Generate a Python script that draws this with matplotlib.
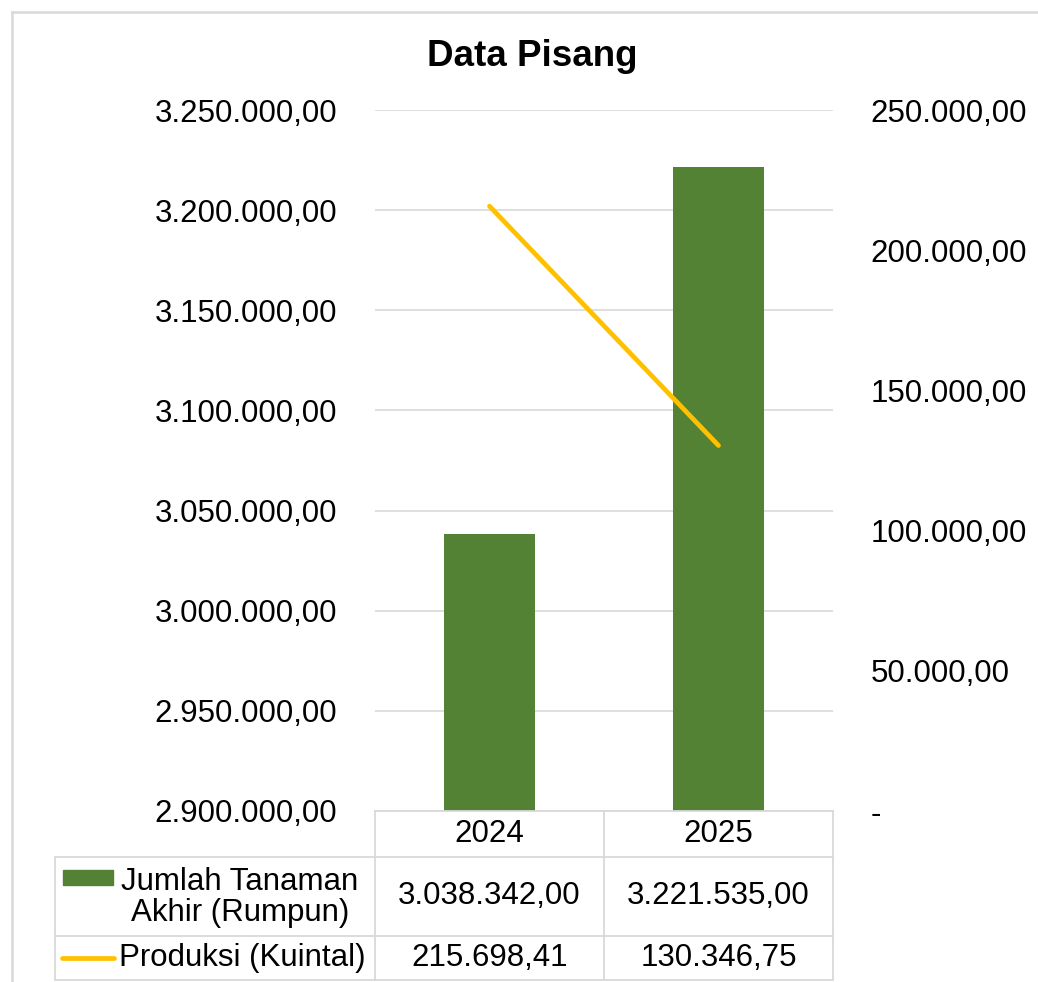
import matplotlib.pyplot as plt
import matplotlib.ticker as mticker
from matplotlib.patches import Rectangle
from matplotlib.lines import Line2D

plt.rcParams['font.family'] = ['Liberation Sans', 'DejaVu Sans']

years = ['2024', '2025']
jumlah_tanaman = [3038342.00, 3221535.00]
produksi = [215698.41, 130346.75]
series_labels = ['Jumlah Tanaman\nAkhir (Rumpun)', 'Produksi (Kuintal)']

GREEN = '#548235'
YELLOW = '#FFC000'
GRID = '#D9D9D9'

W, H = 1038, 982


def fmt_id(v):
    s = f"{v:,.2f}"
    return s.replace(',', 'X').replace('.', ',').replace('X', '.')


def fx(px):
    return px / W


def fy(py):
    return 1 - py / H


fig = plt.figure(figsize=(W / 100, H / 100), dpi=100)

# plot area in pixel coords
x0, x1, y0, y1 = 375, 833, 110, 811
ax = fig.add_axes([fx(x0), fy(y1), fx(x1 - x0), fy(y0) - fy(y1)])
ax2 = ax.twinx()

xs = list(range(len(years)))
ax.bar(xs, jumlah_tanaman, width=0.4, color=GREEN, zorder=3)
ax.set_ylim(2900000, 3250000)
ax.set_xlim(-0.5, len(years) - 0.5)
ax.yaxis.set_major_locator(mticker.MultipleLocator(50000))
ax.yaxis.set_major_formatter(mticker.FuncFormatter(lambda v, p: fmt_id(v)))
ax.grid(axis='y', color=GRID, lw=1.2, zorder=0)
ax.set_xticks([])
ax.tick_params(axis='y', length=0, pad=27, labelsize=22.5, colors='#000000')

ax2.plot(xs, produksi, color=YELLOW, lw=3.4, solid_capstyle='round', zorder=4)
ax2.set_ylim(0, 250000)
ax2.yaxis.set_major_locator(mticker.MultipleLocator(50000))
ax2.yaxis.set_major_formatter(
    mticker.FuncFormatter(lambda v, p: '-' if abs(v) < 1e-9 else fmt_id(v)))
ax2.tick_params(axis='y', length=0, pad=27, labelsize=22.5)
ax2.set_xlim(-0.5, len(years) - 0.5)

for a in (ax, ax2):
    for s in a.spines.values():
        s.set_visible(False)

fig.text(fx(532), fy(57), 'Data Pisang', ha='center', va='center',
         fontsize=26.5, fontweight='bold')

# overlay for chart border
ov = fig.add_axes([0, 0, 1, 1], zorder=-1)
ov.set_xlim(0, W)
ov.set_ylim(H, 0)
ov.axis('off')
ov.add_line(Line2D([12, 12], [12, H + 5], color=GRID, lw=1.8))
ov.add_line(Line2D([12, W + 5], [12, 12], color=GRID, lw=1.8))

# data table
ax_top = fig.add_axes([0, 0, 1, 1], zorder=5)
ax_top.set_xlim(0, W)
ax_top.set_ylim(H, 0)
ax_top.axis('off')
ax_top.patch.set_alpha(0)

row_y = [811, 857, 936, 980]
col_x = [55, 375, 604, 833]
lc = dict(color=GRID, lw=1.3)
ax_top.add_line(Line2D([col_x[1], col_x[3]], [row_y[0], row_y[0]], **lc))
for yy in row_y[1:]:
    ax_top.add_line(Line2D([col_x[0], col_x[3]], [yy, yy], **lc))
ax_top.add_line(Line2D([col_x[0], col_x[0]], [row_y[1], row_y[3]], **lc))
for xx in col_x[1:]:
    ax_top.add_line(Line2D([xx, xx], [row_y[0], row_y[3]], **lc))

fs = 22.5
for i, yr in enumerate(years):
    cx = (col_x[i + 1] + col_x[i + 2]) / 2
    ax_top.text(cx, (row_y[0] + row_y[1]) / 2, yr, ha='center', va='center', fontsize=fs)
    ax_top.text(cx, (row_y[1] + row_y[2]) / 2, fmt_id(jumlah_tanaman[i]),
                ha='center', va='center', fontsize=fs)
    ax_top.text(cx, (row_y[2] + row_y[3]) / 2, fmt_id(produksi[i]),
                ha='center', va='center', fontsize=fs)

# row labels with legend keys
ax_top.add_patch(Rectangle((63, 870), 50, 15, color=GREEN))
ax_top.text(240, (row_y[1] + row_y[2]) / 2 + 1, series_labels[0], ha='center', va='center',
            fontsize=fs, linespacing=1.05)
ax_top.add_line(Line2D([62, 114], [958, 958], color=YELLOW, lw=3.4, solid_capstyle='round'))
ax_top.text(119, (row_y[2] + row_y[3]) / 2, series_labels[1], ha='left', va='center', fontsize=fs)

fig.savefig('out.png', dpi=100, facecolor='white')
